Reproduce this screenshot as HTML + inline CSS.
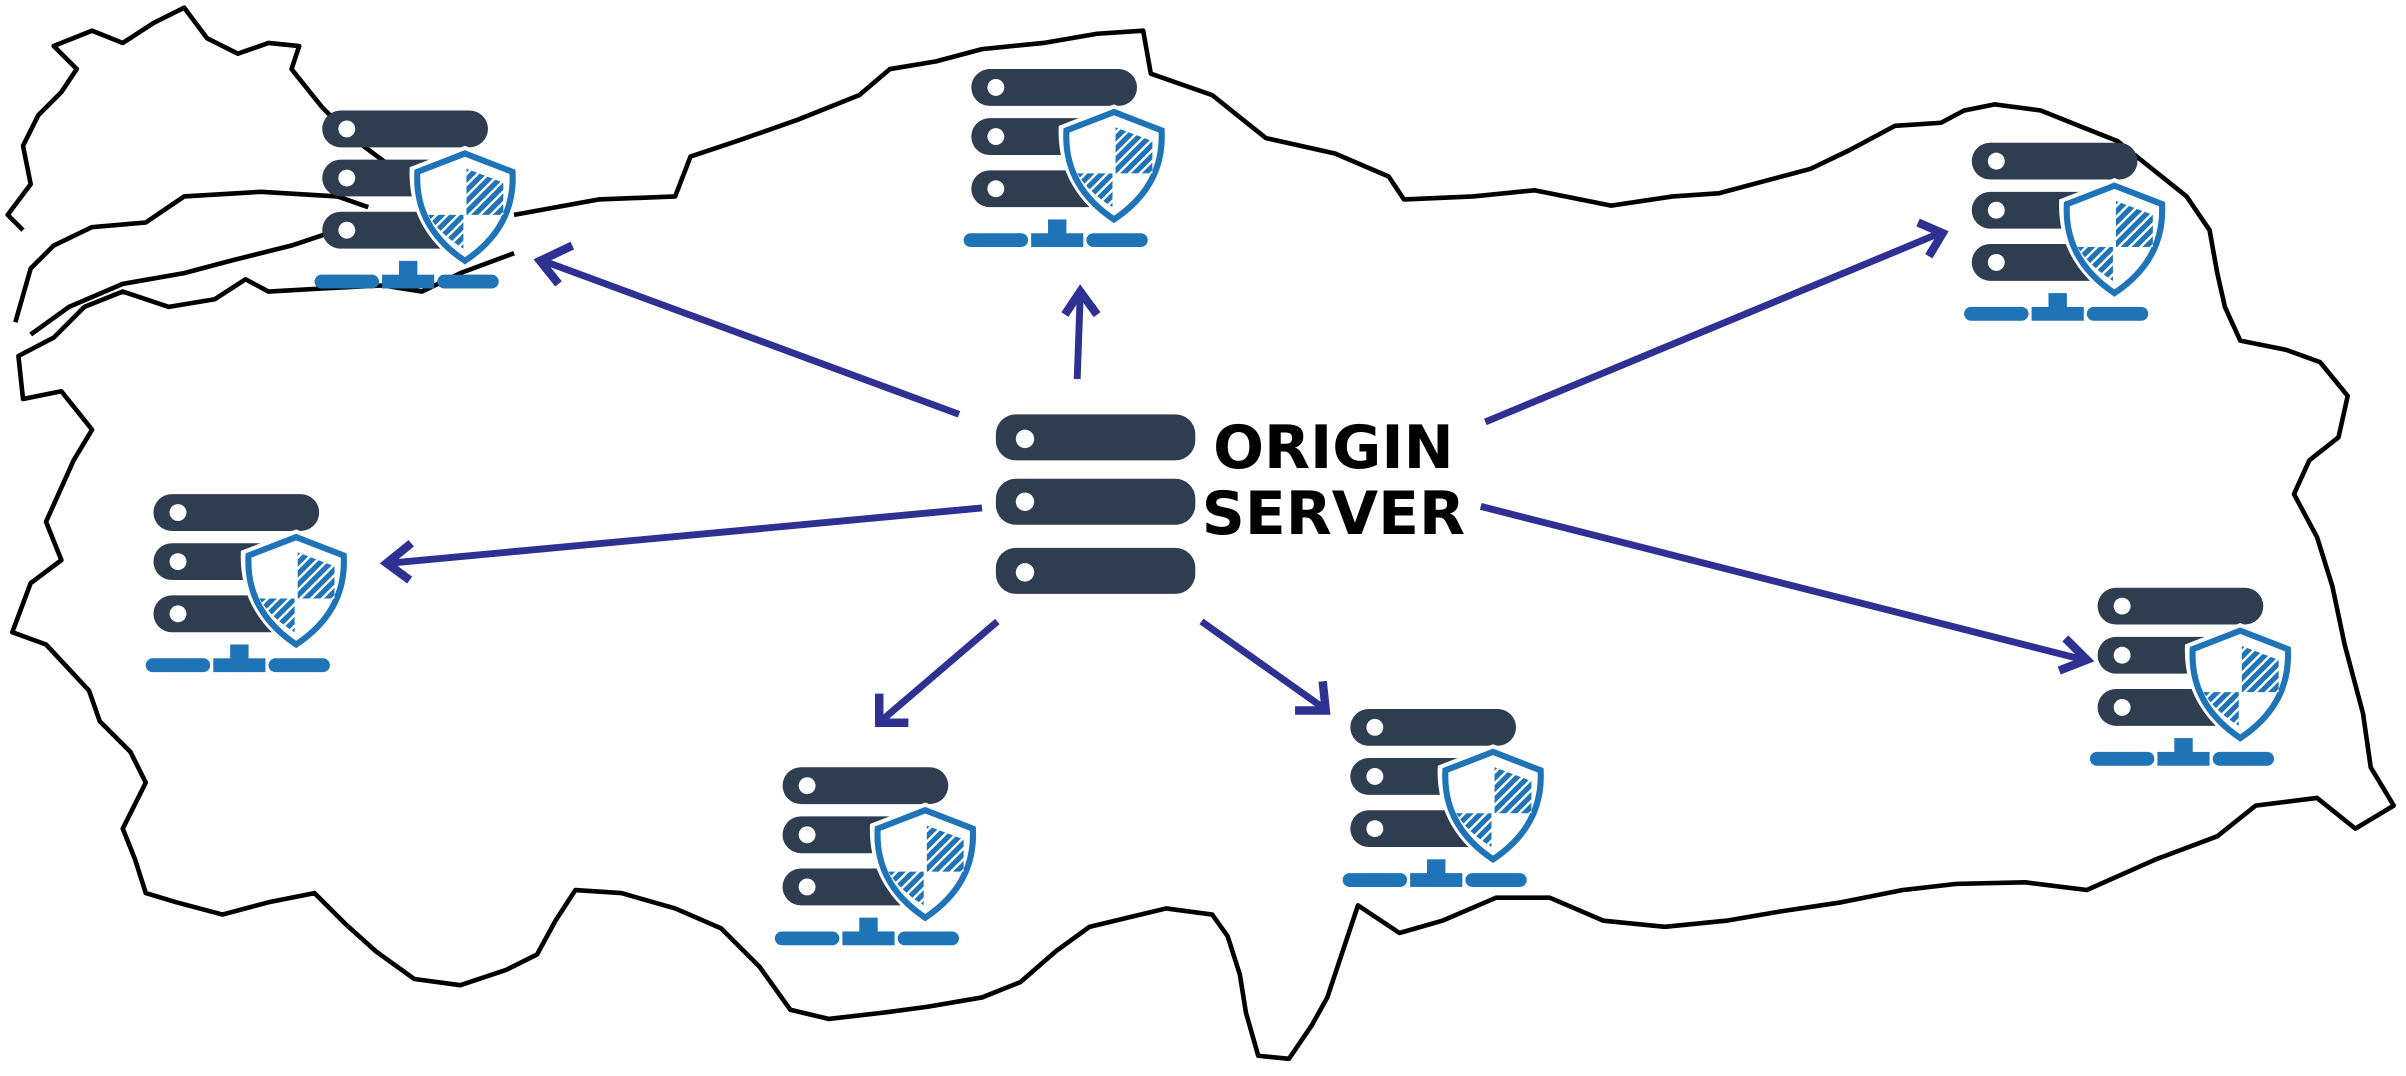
<!DOCTYPE html>
<html><head><meta charset="utf-8"><style>html,body{margin:0;padding:0;background:#fff}svg{display:block}</style></head>
<body>
<svg width="2406" height="1076" viewBox="0 0 1568 701.2" preserveAspectRatio="none" xmlns="http://www.w3.org/2000/svg">
<defs>
<pattern id="h" width="5" height="5" patternUnits="userSpaceOnUse" patternTransform="rotate(45)">
<rect width="5" height="5" fill="#1f74b8"/><rect width="1.6" height="5" fill="#fff"/>
</pattern>
<g id="n">
<rect x="0" y="0" width="108" height="24" rx="12" fill="#2e3e50"/>
<rect x="0" y="32" width="108" height="24" rx="12" fill="#2e3e50"/>
<rect x="0" y="66" width="108" height="24" rx="12" fill="#2e3e50"/>
<circle cx="16" cy="12" r="5.5" fill="#fff"/>
<circle cx="16" cy="44" r="5.5" fill="#fff"/>
<circle cx="16" cy="78" r="5.5" fill="#fff"/>
<path d="M93 23 L129 37 Q131 78 93 103 Q55 78 57 37 Z" fill="#fff"/>
<path d="M93 28 L124 40 Q126 76 93 98 Q60 76 62 40 Z" fill="none" stroke="#1f74b8" stroke-width="4"/>
<path d="M94 38 L118 47 L118 68 L94 68 Z" fill="url(#h)"/>
<path d="M69 68 L92 68 L92 90 Q76 80 69 68 Z" fill="url(#h)"/>
<rect x="-5" y="107" width="42" height="9" rx="4.5" fill="#1f74b8"/>
<rect x="39" y="107" width="34" height="9" fill="#1f74b8"/>
<rect x="50" y="98" width="12" height="10" fill="#1f74b8"/>
<rect x="75" y="107" width="40" height="9" rx="4.5" fill="#1f74b8"/>
</g>
</defs>
<g fill="none" stroke="#000" stroke-width="3" stroke-linejoin="round">
<path d="M335 140 L390 130 L440 128 L450 102 L480 92 L520 78 L560 62 L580 45 L610 40 L640 32 L680 28 L715 22 L745 20 L750 48 L790 62 L825 90 L870 100 L905 115 L915 130 L960 128 L1000 124 L1050 134 L1090 128 L1120 126 L1150 118 L1180 110 L1205 98 L1235 82 L1265 80 L1280 72 L1300 68 L1330 72 L1355 82 L1380 92 L1405 112 L1425 128 L1440 150 L1445 178 L1450 200 L1460 222 L1490 228 L1512 236 L1530 258 L1524 285 L1505 300 L1495 322 L1510 350 L1520 382 L1528 420 L1540 465 L1545 500 L1560 525 L1535 540 L1510 520 L1470 525 L1445 545 L1405 560 L1360 580 L1320 575 L1275 576 L1240 580 L1200 588 L1160 594 L1125 600 L1085 604 L1045 600 L1010 585 L975 585 L940 600 L912 608 L885 590 L875 620 L865 650 L855 668 L840 690 L820 688 L812 660 L808 635 L800 610 L790 596 L760 592 L735 598 L710 604 L688 620 L665 640 L640 650 L605 656 L575 660 L540 664 L515 658 L495 630 L470 605 L440 592 L405 582 L375 580 L362 600 L350 622 L330 632 L300 642 L270 638 L245 620 L225 602 L205 582 L175 588 L145 596 L115 588 L95 582 L88 560 L80 540 L95 510 L85 490 L65 470 L58 450 L30 420 L8 412 L20 380 L40 365 L30 340 L48 300 L60 280 L40 255 L15 260 L12 232 L35 220 L55 200 L80 190 L110 200 L140 195 L160 182 L175 190 L210 188 L250 186 L275 190 L300 178 L335 165"/>
<path d="M20 218 L45 200 L80 185 L120 178 L150 170 L190 160 L220 150 L260 155"/>
<path d="M10 210 L20 175 L35 160 L60 148 L95 145 L120 128 L170 125 L220 128 L240 135"/>
<path d="M15 150 L5 140 L20 120 L15 95 L25 75 L40 60 L50 45 L35 30 L60 20 L80 28 L100 15 L120 5 L135 25 L155 35 L175 28 L195 30 L190 45 L210 70 L230 90 L250 105 L280 118 L300 122 L330 140"/>
</g>
<g stroke="#2e3192" stroke-width="4.5" fill="none" stroke-linecap="butt">
<line x1="625" y1="270" x2="354" y2="170"/>
<polyline points="373,160 352,170 364,185" stroke-width="5.5"/>
<line x1="702" y1="247" x2="704" y2="192"/>
<polyline points="694,205 704,190 715,205" stroke-width="5.5"/>
<line x1="968" y1="275" x2="1264" y2="152"/>
<polyline points="1250,145 1266,152 1257,167" stroke-width="5.5"/>
<line x1="640" y1="331" x2="254" y2="367"/>
<polyline points="268,354 252,367 267,378" stroke-width="5.5"/>
<line x1="650" y1="405" x2="574" y2="470"/>
<polyline points="573,452 573,471 592,471" stroke-width="5.5"/>
<line x1="783" y1="405" x2="862" y2="461"/>
<polyline points="844,463 864,463 862,444" stroke-width="5.5"/>
<line x1="965" y1="330" x2="1358" y2="430"/>
<polyline points="1346,416 1360,430 1342,437" stroke-width="5.5"/>
</g>
<use href="#n" x="210" y="72"/>
<use href="#n" x="633" y="45"/>
<use href="#n" x="1285" y="93"/>
<use href="#n" x="100" y="322"/>
<use href="#n" x="510" y="500"/>
<use href="#n" x="880" y="462"/>
<use href="#n" x="1367" y="383"/>
<g fill="#2e3e50">
<rect x="649" y="270" width="130" height="30" rx="13"/>
<rect x="649" y="312" width="130" height="30" rx="13"/>
<rect x="649" y="357" width="130" height="30" rx="13"/>
</g>
<g fill="#fff"><circle cx="668" cy="286" r="6"/><circle cx="668" cy="327" r="6"/><circle cx="668" cy="373" r="6"/></g>
<rect x="790" y="268" width="162" height="90" fill="#fff"/>
<text x="869" y="305" font-family="DejaVu Sans, sans-serif" font-weight="bold" font-size="39" text-anchor="middle" fill="#000">ORIGIN</text>
<text x="869" y="348" font-family="DejaVu Sans, sans-serif" font-weight="bold" font-size="39" text-anchor="middle" fill="#000">SERVER</text>
</svg>
</body></html>
